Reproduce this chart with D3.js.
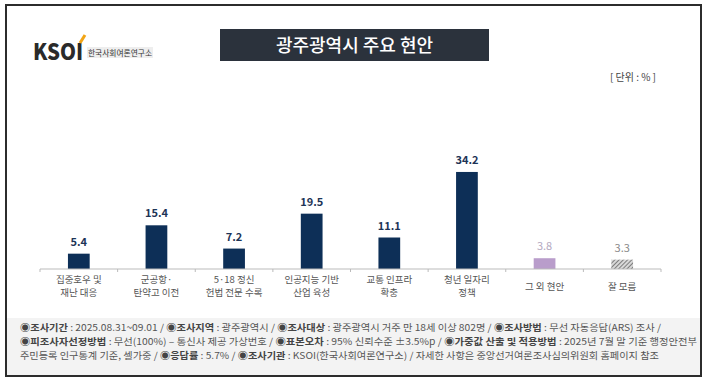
<!DOCTYPE html>
<html>
<head>
<meta charset="utf-8">
<script src="https://cdn.jsdelivr.net/npm/d3@7"></script>
<style>
body{margin:0;background:#fff;}
text{font-family:"Noto Sans CJK KR","Noto Sans",sans-serif;}
</style>
</head>
<body>
<div id="chart"></div>
<script>
// data
const categories = [["집중호우 및","재난 대응"],["군공항·","탄약고 이전"],["5·18 정신","헌법 전문 수록"],["인공지능 기반","산업 육성"],["교통 인프라","확충"],["청년 일자리","정책"],["그 외 현안"],["잘 모름"]];
const values = [5.4,15.4,7.2,19.5,11.1,34.2,3.8,3.3];
const kinds = ["main","main","main","main","main","main","other","dk"];
const footerLines = [
  [["◉조사기간",1],[" : 2025.08.31~09.01 / ",0],["◉조사지역",1],[" : 광주광역시 / ",0],["◉조사대상",1],[" : 광주광역시 거주 만 18세 이상 802명 / ",0],["◉조사방법",1],[" : 무선 자동응답(ARS) 조사 /",0]],
  [["◉피조사자선정방법",1],[" : 무선(100%) – 통신사 제공 가상번호 / ",0],["◉표본오차",1],[" : 95% 신뢰수준 ±3.5%p / ",0],["◉가중값 산출 및 적용방법",1],[" : 2025년 7월 말 기준 행정안전부",0]],
  [["주민등록 인구통계 기준, 셀가중 / ",0],["◉응답률",1],[" : 5.7% / ",0],["◉조사기관",1],[" : KSOI(한국사회여론연구소) / 자세한 사항은 중앙선거여론조사심의위원회 홈페이지 참조",0]]
];
const W=710,H=385;
const svg=d3.select("#chart").append("svg").attr("width",W).attr("height",H);

const defs=svg.append("defs");
const pat=defs.append("pattern").attr("id","hatch").attr("patternUnits","userSpaceOnUse")
  .attr("width",3).attr("height",3).attr("patternTransform","rotate(45)");
pat.append("rect").attr("width",3).attr("height",3).attr("fill","#d8d8d8");
pat.append("line").attr("x1",0).attr("y1",0).attr("x2",0).attr("y2",3).attr("stroke","#555").attr("stroke-width",1.4);

// frame + footer bg
svg.append("rect").attr("x",7).attr("y",318).attr("width",693).attr("height",58).attr("fill","#f3f3f3");
svg.append("rect").attr("x",6).attr("y",5).attr("width",695).attr("height",371)
  .attr("fill","none").attr("stroke","#2c2c2c").attr("stroke-width",2);

// logo
const logo=svg.append("g");
logo.append("text").attr("x",33).attr("y",59.5).attr("font-family","Lato, sans-serif").attr("font-weight",900)
  .attr("font-size",22).attr("fill","#2a2a2a").attr("textLength",50).attr("lengthAdjust","spacingAndGlyphs").text("KSOI");
logo.append("line").attr("x1",80).attr("y1",43).attr("x2",85).attr("y2",35).attr("stroke","#f2a516").attr("stroke-width",3);
logo.append("rect").attr("x",87).attr("y",47).attr("width",66).attr("height",11).attr("fill","#eeeeee");
logo.append("text").attr("x",88).attr("y",56).attr("font-size",8).attr("fill","#333")
  .attr("textLength",64).attr("lengthAdjust","spacingAndGlyphs").text("한국사회여론연구소");

// title
svg.append("rect").attr("x",220).attr("y",29).attr("width",269).attr("height",32).attr("fill","#2b323c");
svg.append("text").attr("x",354.5).attr("y",51.5).attr("text-anchor","middle").attr("font-size",18)
  .attr("font-weight",500).attr("fill","#fff").text("광주광역시 주요 현안");

svg.append("text").attr("x",656).attr("y",81).attr("text-anchor","end").attr("font-size",10)
  .attr("fill","#444").text("[ 단위 : % ]");

// scales
const x=d3.scaleBand().domain(d3.range(values.length)).range([40,661]).paddingInner(0.72).paddingOuter(0.36);
const y=d3.scaleLinear().domain([0,40]).range([269,155.5]);
const fill={main:"#0d2f57",other:"#b99dcb",dk:"url(#hatch)"};
const lab={main:"#1d3456",other:"#b4a9bf",dk:"#8a8a8a"};

svg.selectAll(".bar").data(values).join("rect").attr("class","bar")
  .attr("x",(d,i)=>x(i)).attr("width",x.bandwidth())
  .attr("y",d=>y(d)).attr("height",d=>y(0)-y(d))
  .attr("fill",(d,i)=>fill[kinds[i]]);

svg.selectAll(".val").data(values).join("text").attr("class","val")
  .attr("x",(d,i)=>x(i)+x.bandwidth()/2).attr("y",d=>y(d)-8)
  .attr("text-anchor","middle").attr("font-size",11)
  .attr("font-family","Roboto, sans-serif")
  .attr("font-weight",(d,i)=>kinds[i]=="main"?700:400)
  .attr("fill",(d,i)=>lab[kinds[i]]).text(d=>d.toFixed(1));

// axis
svg.append("line").attr("x1",40).attr("x2",661).attr("y1",269).attr("y2",269).attr("stroke","#bbb");
svg.selectAll(".tk").data(d3.range(values.length+1)).join("line").attr("class","tk")
  .attr("x1",i=>40+i*x.step()).attr("x2",i=>40+i*x.step())
  .attr("y1",269).attr("y2",272).attr("stroke","#bbb");

// category labels, one text per line
categories.forEach((d,i)=>{
  const cx=x(i)+x.bandwidth()/2;
  d.forEach((s,j)=>{
    svg.append("text").attr("class","cat").attr("x",cx).attr("y",d.length==1?290:282.5+j*13.8)
      .attr("text-anchor","middle").attr("font-size",9.5).attr("fill","#555").text(s);
  });
});

// footer
const fEnds=[661,697,659];
footerLines.forEach((ln,i)=>{
  const t=svg.append("text").attr("x",20).attr("y",331+i*14).attr("font-size",9.5).attr("fill","#555")
    .attr("textLength",fEnds[i]-20).attr("lengthAdjust","spacingAndGlyphs");
  ln.forEach(p=>t.append("tspan").attr("font-weight",p[1]?700:400).attr("fill",p[1]?"#444":"#555").text(p[0]));
});
</script>
</body>
</html>
